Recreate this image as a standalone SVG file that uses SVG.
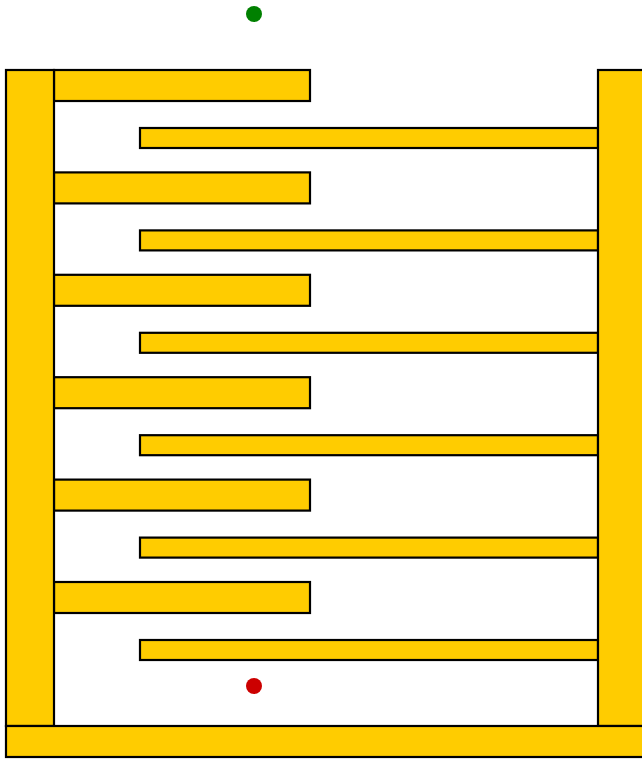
<svg xmlns="http://www.w3.org/2000/svg" width="642" height="759" viewBox="0 0 642 759">
<style>
.w{fill:#ffcc00;stroke:#000;stroke-width:2.2}
</style>
<rect width="642" height="759" fill="#fff"/>
<g id="bars-left">
<rect class="w" x="54" y="70" width="256" height="31"/>
<rect class="w" x="54" y="172.4" width="256" height="31"/>
<rect class="w" x="54" y="274.8" width="256" height="31"/>
<rect class="w" x="54" y="377.2" width="256" height="31"/>
<rect class="w" x="54" y="479.6" width="256" height="31"/>
<rect class="w" x="54" y="582" width="256" height="31"/>
</g>
<g id="bars-right">
<rect class="w" x="140" y="128" width="458" height="20"/>
<rect class="w" x="140" y="230.4" width="458" height="20"/>
<rect class="w" x="140" y="332.8" width="458" height="20"/>
<rect class="w" x="140" y="435.2" width="458" height="20"/>
<rect class="w" x="140" y="537.6" width="458" height="20"/>
<rect class="w" x="140" y="640" width="458" height="20"/>
</g>
<g id="walls">
<rect class="w" x="6" y="70" width="48" height="656"/>
<rect class="w" x="598" y="70" width="60" height="656"/>
<rect class="w" x="6" y="726" width="650" height="31"/>
</g>
<circle id="start" cx="254" cy="14" r="8" fill="#008000"/>
<circle id="goal" cx="254" cy="686" r="8" fill="#cc0000"/>
</svg>
